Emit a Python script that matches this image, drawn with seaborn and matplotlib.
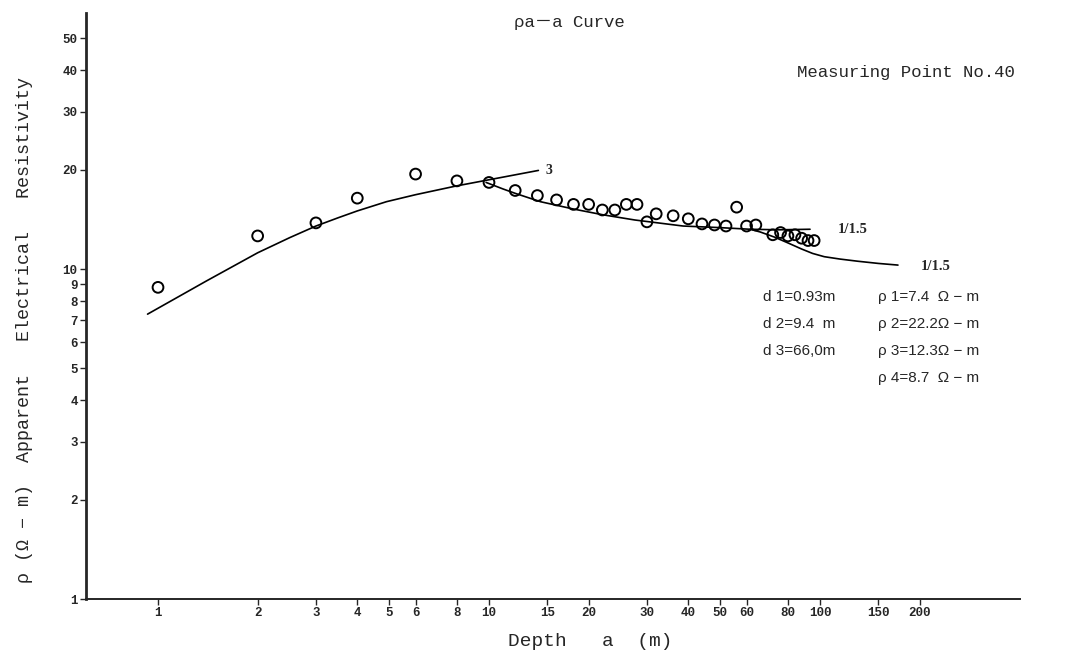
import matplotlib
matplotlib.use("Agg")
import matplotlib.pyplot as plt
import seaborn as sns
import pandas as pd
from matplotlib.ticker import FixedLocator, FixedFormatter, NullLocator

# Measured apparent resistivity (electrode spacing a in m, rho in ohm-m)
depth = [1, 2, 3, 4, 6, 8, 10, 12, 14, 16, 18, 20, 22, 24, 26, 28, 30, 32, 36, 40,
         44, 48, 52, 56, 60, 64, 72, 76, 80, 84, 88, 92, 96]
rho = [8.8, 12.6, 13.8, 16.4, 19.4, 18.5, 18.3, 17.3, 16.7, 16.2, 15.7, 15.7, 15.1,
       15.1, 15.7, 15.7, 13.9, 14.7, 14.5, 14.2, 13.7, 13.6, 13.5, 15.4, 13.5, 13.6,
       12.7, 12.9, 12.6, 12.7, 12.4, 12.2, 12.2]

# Theoretical master curves
rise_a = [0.93, 1.4, 2.0, 2.5, 3.0, 3.5, 4.0, 4.9, 6.0, 7.95, 9.6, 14.1]
rise_rho = [7.3, 9.2, 11.2, 12.45, 13.5, 14.3, 15.0, 16.0, 16.8, 17.85, 18.5, 19.9]
fall_a = [9.8, 11.0, 12.0, 14.3, 18.0, 22.1, 27.6, 38.6, 50.0, 61.5, 75.0, 93.3]
fall_rho = [18.3, 17.5, 16.96, 16.0, 15.2, 14.6, 14.08, 13.5, 13.35, 13.2, 13.15, 13.2]
tail_a = [61.5, 66.0, 72.8, 80.0, 88.0, 95.0, 103.0, 115.0, 130.0, 150.0, 172.0]
tail_rho = [13.2, 12.95, 12.5, 12.0, 11.5, 11.15, 10.9, 10.72, 10.56, 10.4, 10.28]

x_ticks = [1, 2, 3, 4, 5, 6, 8, 10, 15, 20, 30, 40, 50, 60, 80, 100, 150, 200]
y_ticks = [1, 2, 3, 4, 5, 6, 7, 8, 9, 10, 20, 30, 40, 50]

layer_left = ["d 1=0.93m", "d 2=9.4  m", "d 3=66,0m"]
layer_right = ["ρ 1=7.4  Ω − m", "ρ 2=22.2Ω − m", "ρ 3=12.3Ω − m", "ρ 4=8.7  Ω − m"]

sns.set_style("ticks")
plt.rcParams["font.family"] = ["Liberation Mono", "DejaVu Sans"]

fig = plt.figure(figsize=(10.66, 6.57), dpi=100)
ax = fig.add_axes([86 / 1066, 1 - 599 / 657, (1020 - 86) / 1066, (599 - 13) / 657])

pts = pd.DataFrame({"a": depth, "rho": rho})
for xs, ys in [(rise_a, rise_rho), (fall_a, fall_rho), (tail_a, tail_rho)]:
    sns.lineplot(x=xs, y=ys, ax=ax, color="black", linewidth=1.2, sort=False,
                 estimator=None)
sns.scatterplot(data=pts, x="a", y="rho", ax=ax, marker="o", s=60,
                facecolor="none", edgecolor="black", linewidth=1.4, zorder=3)

ax.set_xscale("log")
ax.set_yscale("log")
ax.set_xlim(0.606, 402)
ax.set_ylim(1, 59.7)

ax.xaxis.set_major_locator(FixedLocator(x_ticks))
ax.xaxis.set_major_formatter(FixedFormatter([str(v) for v in x_ticks]))
ax.xaxis.set_minor_locator(NullLocator())
ax.yaxis.set_major_locator(FixedLocator(y_ticks))
ax.yaxis.set_major_formatter(FixedFormatter([str(v) for v in y_ticks]))
ax.yaxis.set_minor_locator(NullLocator())
ax.tick_params(axis="both", direction="out", length=4, width=1, labelsize=9,
               pad=2)
for lab in ax.get_xticklabels() + ax.get_yticklabels():
    lab.set_fontweight("bold")

sns.despine(ax=ax)
ax.spines["left"].set_linewidth(2.0)
ax.spines["bottom"].set_linewidth(1.4)

ax.set_xlabel("Depth   a  (m)", fontsize=14)
ax.xaxis.set_label_coords((590 - 86) / 934, -(633 - 599) / 586)
ax.set_ylabel("ρ (Ω − m)  Apparent   Electrical   Resistivity", fontsize=13.2)
ax.yaxis.set_label_coords((33 - 86) / 934, (599 - 330) / 586)

# Curve labels
ax.text(14.8, 19.9, "3", fontsize=10, fontweight="bold", family="Liberation Serif",
        va="center")
ax.text(113, 13.2, "1/1.5", fontsize=10.5, fontweight="bold",
        family="Liberation Serif", va="center")
ax.text(202, 10.15, "1/1.5", fontsize=10.5, fontweight="bold",
        family="Liberation Serif", va="center")

# Titles
fig.text(625 / 1066, 1 - 22 / 657, "ρa－a Curve", fontsize=12.5,
         ha="right", va="center",
         family=["Liberation Mono", "Noto Sans CJK JP", "DejaVu Sans"])
fig.text(1015 / 1066, 1 - 73 / 657, "Measuring Point No.40", fontsize=12.5,
         ha="right", va="center")

# Layer parameters
rows_y = [297, 324, 351, 378]
for i, t in enumerate(layer_left):
    fig.text(763 / 1066, 1 - rows_y[i] / 657, t, fontsize=11,
             family="Liberation Sans", va="center")
for i, t in enumerate(layer_right):
    fig.text(878 / 1066, 1 - rows_y[i] / 657, t, fontsize=11,
             family=["Liberation Sans", "DejaVu Sans"], va="center")

fig.savefig("out.png", dpi=100)
